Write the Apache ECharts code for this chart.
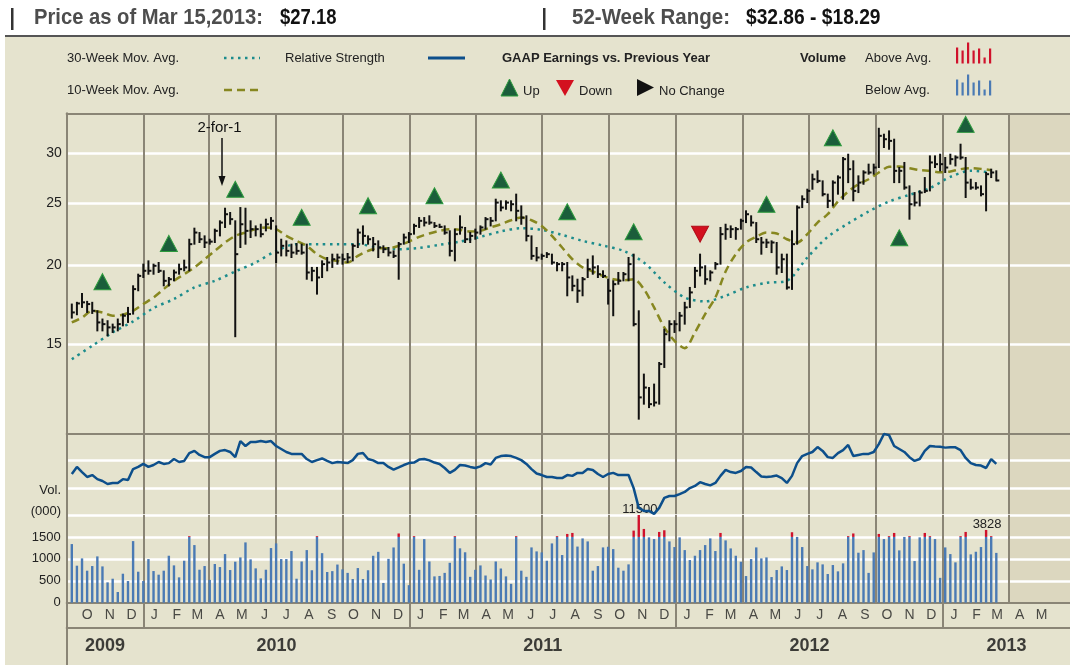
<!DOCTYPE html>
<html>
<head>
<meta charset="utf-8">
<script src="https://cdn.jsdelivr.net/npm/echarts@6.0.0/dist/echarts.min.js"></script>
<style>
html,body{margin:0;padding:0;background:#ffffff;}
#chart{width:1070px;height:665px;}
</style>
</head>
<body>
<div id="chart"></div>
<script>
// ---------------- DATA (weekly, first week ending 2009-09-25) ----------------
const hi = [17.34,17.45,18.02,17.51,17.45,16.92,16.42,16.32,16.12,16.42,
 16.72,17.13,18.53,19.33,20.05,20.29,20.05,20.17,19.57,19.10,
 19.62,20.05,20.34,21.95,22.85,22.49,22.22,21.95,22.77,23.47,
 24.57,24.19,23.47,24.63,24.57,23.47,23.04,23.18,23.61,23.75,
 23.04,21.95,21.82,21.56,21.61,21.56,21.56,19.81,19.81,20.29,
 20.54,20.79,20.79,20.79,20.84,21.56,22.77,23.04,22.22,22.09,
 21.82,21.43,21.30,21.04,21.69,22.36,22.49,23.18,23.75,23.75,
 23.90,23.32,23.18,23.04,22.63,22.77,23.90,22.91,22.49,22.77,
 23.04,23.75,23.75,25.39,25.24,25.24,25.24,25.86,24.78,23.90,
 22.22,21.30,20.79,20.91,20.79,20.17,20.17,20.17,19.21,18.98,
 19.10,20.41,20.66,19.93,19.57,18.98,18.87,19.45,19.45,20.54,
 20.79,16.92,13.44,12.80,12.96,14.02,15.83,16.32,16.32,16.82,
 17.45,18.42,19.81,20.79,19.93,19.57,20.17,22.91,23.18,23.04,
 22.91,23.61,24.34,23.90,23.32,22.09,21.95,21.82,21.69,20.79,
 20.79,22.63,24.78,25.70,26.33,27.81,28.15,27.14,25.86,27.14,
 27.64,29.55,29.90,29.19,27.64,28.15,28.84,28.84,32.86,32.16,
 32.55,31.58,28.49,29.02,26.65,26.01,26.17,27.47,29.72,29.72,
 29.90,29.55,29.90,29.72,31.01,29.55,27.30,26.97,26.65,27.98,
 28.32,28.15];
const lo = [16.48,16.68,17.13,16.82,16.76,15.73,15.73,15.45,15.64,15.73,
 16.02,16.22,16.72,18.20,19.10,19.33,19.33,19.45,18.53,18.53,
 18.87,19.33,19.57,19.57,21.56,21.69,21.30,21.56,21.69,22.22,
 22.91,23.18,15.40,21.30,21.56,22.09,22.22,22.14,22.63,22.77,
 20.17,20.66,20.66,20.54,20.79,20.79,18.98,18.87,17.98,19.10,
 19.57,19.81,20.05,20.05,20.17,20.29,21.30,21.56,21.56,21.04,
 20.54,20.91,20.66,20.54,18.98,21.56,21.69,22.36,22.91,23.04,
 23.18,22.91,22.91,22.36,20.66,20.29,22.36,21.69,21.69,21.95,
 22.36,22.77,23.04,23.47,24.34,24.48,24.34,23.47,23.18,21.82,
 20.41,20.29,20.41,20.54,20.05,19.57,19.57,17.87,18.20,17.45,
 17.87,19.10,19.33,19.10,19.10,17.34,16.62,18.64,18.87,18.87,
 16.02,11.41,12.05,11.90,11.97,12.05,13.77,15.17,15.64,15.73,
 16.12,17.13,18.42,19.21,18.64,18.87,19.69,20.05,21.95,22.09,
 21.95,22.77,23.32,23.04,21.69,20.79,21.30,20.91,19.33,19.45,
 18.31,18.29,21.56,24.63,25.08,26.33,26.97,25.70,24.63,24.78,
 25.86,25.39,26.97,25.24,26.01,26.81,27.81,27.81,28.49,30.64,
 30.45,26.97,26.97,26.33,23.61,24.78,24.78,26.01,26.17,28.49,
 28.15,27.98,28.84,28.66,29.37,25.55,26.33,26.33,25.70,24.34,
 27.47,27.14];
const cl = [16.82,17.38,17.45,17.34,16.92,16.22,16.12,15.93,15.93,16.12,
 16.62,16.72,18.31,19.21,19.57,19.57,19.93,19.57,18.87,18.98,
 19.45,19.69,19.81,21.56,22.49,21.95,21.69,21.76,22.63,23.32,
 24.04,23.61,20.79,23.18,22.63,22.77,22.77,22.36,23.18,23.47,
 20.91,21.43,21.04,20.91,21.04,20.91,19.45,19.57,19.10,20.05,
 20.17,20.41,20.54,20.41,20.54,21.43,22.49,22.22,21.95,21.56,
 21.30,21.17,20.91,20.66,21.56,22.09,22.36,23.04,23.47,23.32,
 23.32,23.04,22.96,22.49,21.04,22.36,22.91,21.95,22.22,22.49,
 22.91,23.61,23.47,25.08,24.63,25.08,24.93,24.34,23.75,22.22,
 20.66,20.54,20.66,20.79,20.17,20.05,20.05,19.10,18.53,18.20,
 18.98,19.69,19.81,19.33,19.21,18.20,18.64,18.87,19.33,20.05,
 16.12,12.35,12.80,12.05,12.12,13.94,15.54,16.12,16.12,16.62,
 17.13,18.09,19.57,19.81,18.98,19.45,20.05,22.36,22.77,22.77,
 22.77,23.47,24.04,23.32,21.95,21.69,21.69,21.69,19.81,20.41,
 18.42,21.56,24.63,25.39,26.17,27.30,27.14,25.86,25.24,26.97,
 27.47,29.37,28.32,26.17,26.97,27.98,27.98,28.49,31.97,31.58,
 31.39,28.15,28.15,26.49,24.93,25.08,26.01,26.17,29.02,28.84,
 28.84,28.49,29.37,29.55,29.55,26.97,26.49,26.49,25.86,27.81,
 27.98,27.18];
// 10-week moving average, one reading every 2 weeks
const ma10 = [16.22,16.51,16.92,16.82,16.62,16.68,16.92,17.34,17.76,18.31,
 18.87,19.33,19.81,20.41,21.04,21.69,22.22,22.49,22.77,22.91,
 22.77,22.22,21.82,21.43,20.79,20.41,20.29,20.17,20.66,21.04,
 21.25,21.25,21.43,21.76,22.14,22.41,22.63,22.77,22.71,22.58,
 22.63,22.91,23.18,23.52,23.75,23.52,23.04,22.22,21.30,20.41,
 19.81,19.52,19.21,18.98,18.91,18.98,18.31,17.13,15.93,15.17,
 14.77,15.64,16.72,17.76,19.52,20.79,21.69,22.14,22.49,22.41,
 21.95,21.69,22.36,23.32,24.04,25.18,26.11,26.81,27.30,27.98,
 28.56,28.59,28.42,28.22,28.15,28.01,28.08,28.32,28.42,28.35,
 28.22];
// 30-week moving average, one reading every 4 weeks
const ma30 = [14.19,14.90,15.64,16.28,17.09,17.66,18.42,18.87,19.52,20.17,
 21.04,21.56,21.56,21.56,21.56,21.30,21.17,21.27,21.51,21.76,
 22.14,22.58,22.85,22.71,22.30,21.82,21.45,21.04,20.17,18.76,
 17.76,17.51,17.87,18.42,18.73,18.87,20.54,22.14,23.25,24.28,
 25.18,25.80,26.43,27.53,28.15,27.98];
// relative strength (index units)
const rs = [15.1,17.7,15.8,14.0,14.7,13.2,12.5,11.4,11.8,11.8,
 13.2,12.9,16.9,17.7,18.8,17.7,18.4,19.5,18.8,19.1,
 20.6,19.5,19.9,22.8,23.6,22.1,21.3,21.3,22.5,23.6,
 23.9,23.2,21.3,27.2,25.4,26.9,26.9,27.2,26.9,27.2,
 25.4,24.3,23.2,22.5,22.5,22.5,20.6,19.5,20.2,20.8,
 19.9,19.1,19.5,19.3,19.1,20.2,22.5,22.8,20.6,20.1,
 19.1,19.1,17.7,16.7,17.5,18.4,19.1,19.3,20.4,20.6,
 20.1,19.3,18.8,17.3,15.5,16.6,18.4,18.2,17.7,17.3,
 17.9,19.1,18.6,21.0,21.7,21.9,21.7,21.0,20.2,18.8,
 16.9,15.3,14.7,14.0,14.0,13.6,13.6,14.7,14.4,15.5,
 15.5,16.9,16.6,15.1,14.0,15.1,15.5,14.7,14.7,14.7,
 9.9,2.6,1.5,1.5,0.4,2.6,6.3,7.0,7.0,7.7,
 8.5,9.9,10.7,12.1,11.4,10.9,11.8,14.4,16.6,15.8,
 15.5,16.2,17.7,17.5,15.8,14.2,14.0,14.2,14.5,13.6,
 11.8,14.4,19.1,21.7,22.5,23.2,25.0,23.6,21.3,21.0,
 22.8,23.9,25.8,21.7,22.1,22.5,22.5,23.2,26.1,29.8,
 29.4,25.4,24.3,23.2,21.3,19.9,20.6,23.6,25.4,25.2,
 25.1,24.8,24.9,24.9,23.9,21.0,19.1,18.4,18.2,17.3,
 20.6,18.8];
// weekly volume (000)
const vol = [1337,844,1011,730,836,1056,828,464,547,244,
 661,494,1405,707,494,995,722,639,730,1071,
 851,578,957,1650,1314,752,836,520,882,813,
 1109,745,935,1033,1375,988,783,555,752,1246,
 1352,995,995,1178,547,940,1200,740,1650,1130,
 700,720,870,760,680,540,790,540,740,1070,
 1160,450,1000,1260,2450,890,400,1650,750,1450,
 940,600,610,680,910,1650,1240,1150,590,750,
 850,620,530,940,780,600,430,1650,730,590,
 1261,1170,1147,957,1352,1650,1087,2290,2640,1280,
 1466,1398,730,836,1261,1276,1223,798,730,874,
 3550,11500,4260,1490,1451,3020,3690,1398,1269,1490,
 1200,973,1071,1200,1314,1466,1178,2640,1421,1238,
 1071,935,608,995,1261,1011,1033,585,745,828,
 745,2900,1500,1269,836,760,920,874,654,859,
 715,897,1650,2450,1140,1200,680,1147,2290,1451,
 1650,2640,1193,1500,1650,950,1490,2640,1650,1451,
 567,1261,1109,920,1650,3020,1102,1162,1269,3828,
 1650,1136];
const volLabelWeeks = [111, 179];
// earnings markers
const epsWeeks = [6,19,32,45,58,71,84,97,110,123,136,149,162,175];
const epsDir = ['up','up','up','up','up','up','up','up','up','down','up','up','up','up'];
const epsLevel = [18.81,21.62,26.32,23.77,24.80,25.71,27.22,24.25,22.55,22.36,24.92,31.75,22.07,33.33];
// axis labels
const priceTicks = [15,20,25,30];
const volTicks = [500,1000,1500,2000];
const rsTicks = [10,20];
const monthLabels = ['O','N','D','J','F','M','A','M','J','J','A','S','O','N','D',
 'J','F','M','A','M','J','J','A','S','O','N','D',
 'J','F','M','A','M','J','J','A','S','O','N','D',
 'J','F','M','A','M'];
const yearLabels = ['2009','2010','2011','2012','2013'];

// ---------------- LAYOUT ----------------
const DAY = 86400000;
const W0 = new Date(2009, 8, 25).getTime();
const wk = i => W0 + i * 7 * DAY;
const X_MIN = new Date(2009, 8, 18).getTime();
const X_MAX = new Date(2013, 5, 24).getTime();
const SHADE_START = new Date(2013, 3, 1).getTime();
const LINE = '#8a8576';
const F = '"Liberation Sans", Arial, Helvetica, sans-serif';
const VOL_CAP = 1500;

const quarterDates = [];
for (let y = 2010; y <= 2013; y++) for (const m of [0,3,6,9]) {
  const t = new Date(y, m, 1).getTime(); if (t < X_MAX) quarterDates.push(t);
}
const yearStarts = [2010,2011,2012,2013].map(y => new Date(y,0,1).getTime());

const L = 66.7;
const grids = [
  {left:L, right:0, top:113.3, height:320.2},
  {left:L, right:0, top:433.5, height:81.5},
  {left:L, right:0, top:515, height:87.7},
  {left:L, right:0, top:602.7, height:25},
  {left:L, right:0, top:627.7, height:37.3}
];
function xAx(gi, pos, showLine) {
  return {type:'time', gridIndex:gi, min:X_MIN, max:X_MAX, position:pos, z:4,
    axisLine:{show:showLine, onZero:false, lineStyle:{color:LINE, width:2}},
    axisTick:{show:false}, axisLabel:{show:false}, splitLine:{show:false}};
}
function yAx(gi, extra) {
  return Object.assign({type:'value', gridIndex:gi, z:4,
    axisLine:{show:true, onZero:false, lineStyle:{color:LINE, width:2}},
    axisTick:{show:false}, axisLabel:{show:false}, splitLine:{show:false}}, extra);
}
const vLine = t => ({xAxis:t, lineStyle:{color:LINE, width:2, type:'solid'}, label:{show:false}});
const hLine = (v, lab) => ({yAxis:v, lineStyle:{color:'#ffffff', width:2.5, type:'solid'},
  label: lab ? {show:true, position:'start', formatter:String(v), fontSize:14, color:'#222', fontFamily:F, distance:5} : {show:false}});
function guideSeries(gi, hs, vs, lab) {
  return {type:'line', xAxisIndex:gi, yAxisIndex:gi, data:[], silent:true, z:2,
    markLine:{silent:true, symbol:['none','none'], z:2, animation:false,
      data: hs.map(v => hLine(v, lab)).concat(vs.map(vLine))}};
}
function shadeSeries(gi) {
  return {type:'line', xAxisIndex:gi, yAxisIndex:gi, data:[], silent:true, z:1,
    markArea:{silent:true, z:1, itemStyle:{color:'#dcd7bf'}, data:[[{xAxis:SHADE_START},{xAxis:X_MAX}]]}};
}

function renderPrice(params, api) {
  const t = api.value(0);
  const a = api.coord([t, api.value(1)]);
  const b = api.coord([t, api.value(2)]);
  const c = api.coord([t, api.value(3)]);
  const st = {stroke:'#111', lineWidth:2, fill:null};
  return {type:'group', children:[
    {type:'line', shape:{x1:a[0], y1:a[1]-0.5, x2:b[0], y2:b[1]+0.5}, style:st},
    {type:'line', shape:{x1:c[0], y1:c[1], x2:c[0]+3, y2:c[1]}, style:st}
  ]};
}
function overDisplay(v) { return v > VOL_CAP ? 500 * Math.pow((v - VOL_CAP) / 10000, 0.785) : 0; }
function renderVol(params, api) {
  const t = api.value(0), v = api.value(1), idx = params.dataIndex;
  const base = api.coord([t, 0]);
  const top1 = api.coord([t, Math.min(v, VOL_CAP)]);
  const w = 2.4;
  const ch = [{type:'rect', shape:{x:base[0]-w/2, y:top1[1], width:w, height:base[1]-top1[1]}, style:{fill:'#4a7ab4'}}];
  const over = overDisplay(v);
  if (over > 0) {
    const top2 = api.coord([t, VOL_CAP + over]);
    ch.push({type:'rect', shape:{x:base[0]-w/2, y:top2[1], width:w, height:top1[1]-top2[1]}, style:{fill:'#d0112b'}});
    if (volLabelWeeks.indexOf(idx) >= 0) {
      ch.push({type:'text', x:base[0]+1, y:top2[1]+1, style:{text:String(v), font:'13px '+F, fill:'#222',
        align:'center', verticalAlign:'bottom', textAlign:'center', textVerticalAlign:'bottom'}});
    }
  }
  return {type:'group', children:ch};
}

function yearCenter(y) {
  const a = Math.max(new Date(y,0,1).getTime(), X_MIN);
  const b = Math.min(new Date(y+1,0,1).getTime(), X_MAX);
  return (a + b) / 2;
}

// ---------------- GRAPHICS (header + legend) ----------------
function txt(x, y, s, font, fill, align) {
  return {type:'text', x:x, y:y, silent:true, z:10, style:{text:s, font:font, fill:fill || '#222',
    align:align || 'left', verticalAlign:'middle', textAlign:align || 'left', textVerticalAlign:'middle'}};
}
const mctx = document.createElement('canvas').getContext('2d');
function fitTxt(x, y, s, font, fill, width) {
  mctx.font = font;
  const w = mctx.measureText(s).width;
  const t = txt(x, y, s, font, fill);
  t.scaleX = w > 0 ? width / w : 1;
  return t;
}
function bars(x0, yb, heights, color) {
  return heights.map((h, k) => ({type:'rect', silent:true, z:10, shape:{x:x0 + k*5.5, y:yb - h, width:2.2, height:h}, style:{fill:color}}));
}
const HF = 'bold 22px "Liberation Sans", Arial, sans-serif';
const graphic = [
  {type:'rect', silent:true, z:-10, shape:{x:0, y:0, width:1070, height:36}, style:{fill:'#ffffff'}},
  {type:'rect', silent:true, z:-10, shape:{x:0, y:0, width:5, height:665}, style:{fill:'#ffffff'}},
  {type:'line', silent:true, z:10, shape:{x1:5, y1:36, x2:1070, y2:36}, style:{stroke:'#555', lineWidth:2}},
  {type:'rect', silent:true, z:10, shape:{x:11, y:8, width:2.5, height:22}, style:{fill:'#333'}},
  fitTxt(34, 18, 'Price as of Mar 15,2013:', HF, '#4d4d4d', 229),
  fitTxt(280, 18, '$27.18', HF, '#111', 56.5),
  {type:'rect', silent:true, z:10, shape:{x:543, y:8, width:2.5, height:22}, style:{fill:'#333'}},
  fitTxt(572, 18, '52-Week Range:', HF, '#4d4d4d', 158),
  fitTxt(746, 18, '$32.86 - $18.29', HF, '#111', 134.5),
  // legend row 1
  txt(67, 58, '30-Week Mov. Avg.', '13px ' + F),
  {type:'line', silent:true, z:10, shape:{x1:224, y1:58, x2:260, y2:58}, style:{stroke:'#1c8c8c', lineWidth:2.5, lineDash:[2.5,4.5]}},
  txt(285, 58, 'Relative Strength', '13px ' + F),
  {type:'line', silent:true, z:10, shape:{x1:428, y1:58, x2:465, y2:58}, style:{stroke:'#0d4f8b', lineWidth:3}},
  txt(502, 58, 'GAAP Earnings vs. Previous Year', 'bold 13px ' + F),
  txt(800, 58, 'Volume', 'bold 13px ' + F),
  txt(865, 58, 'Above Avg.', '13px ' + F),
  // legend row 2
  txt(67, 90, '10-Week Mov. Avg.', '13px ' + F),
  {type:'line', silent:true, z:10, shape:{x1:224, y1:90, x2:260, y2:90}, style:{stroke:'#878720', lineWidth:2.5, lineDash:[8,5]}},
  {type:'polygon', silent:true, z:10, shape:{points:[[501,96],[518,96],[509.5,79]]}, style:{fill:'#1b5e3b', stroke:'#2c9a3c', lineWidth:1}},
  txt(523, 91, 'Up', '13px ' + F),
  {type:'polygon', silent:true, z:10, shape:{points:[[556,80],[574,80],[565,96]]}, style:{fill:'#d3101f'}},
  txt(579, 91, 'Down', '13px ' + F),
  {type:'polygon', silent:true, z:10, shape:{points:[[637,79],[637,96],[654,87.5]]}, style:{fill:'#111'}},
  txt(659, 91, 'No Change', '13px ' + F),
  txt(865, 90, 'Below Avg.', '13px ' + F),
  // chart annotations
  txt(61, 490, 'Vol.', '13px ' + F, '#222', 'right'),
  txt(61, 511, '(000)', '13px ' + F, '#222', 'right'),
  txt(219.5, 128, '2-for-1', '15px ' + F, '#111', 'center'),
  {type:'line', silent:true, z:10, shape:{x1:222, y1:138, x2:222, y2:180}, style:{stroke:'#111', lineWidth:1.5}},
  {type:'polygon', silent:true, z:10, shape:{points:[[218.5,176],[225.5,176],[222,186]]}, style:{fill:'#111'}}
].concat(bars(956, 63.5, [16,13,21,13,15,6,15], '#d0112b'))
 .concat(bars(956, 95.5, [16,13,21,13,15,6,15], '#4a7ab4'));

// ---------------- OPTION ----------------
const option = {
  animation:false,
  backgroundColor:'#e5e3ce',
  textStyle:{fontFamily:F},
  grid: grids,
  xAxis: [xAx(0,'top',true), xAx(1,'top',true), xAx(2,'bottom',true), xAx(3,'bottom',true), xAx(4,'bottom',false)],
  yAxis: [
    yAx(0, {type:'log', logBase:10, min:10.83, max:34.70}),
    yAx(1, {min:0, max:30, interval:10}),
    yAx(2, {min:0, max:2000, interval:500,
      axisLabel:{show:true, margin:6, fontSize:13, color:'#222', fontFamily:F, formatter: v => v > VOL_CAP ? '' : String(v)}}),
    yAx(3, {min:0, max:1}),
    yAx(4, {min:0, max:1})
  ],
  graphic: graphic,
  series: [
    shadeSeries(0), shadeSeries(1), shadeSeries(2),
    guideSeries(0, priceTicks, quarterDates, true),
    guideSeries(1, rsTicks, quarterDates, false),
    guideSeries(2, volTicks, quarterDates, false),
    guideSeries(3, [], yearStarts, false),
    {type:'line', name:'30-Week', xAxisIndex:0, yAxisIndex:0, z:3, showSymbol:false, smooth:0.3, silent:true,
      data: ma30.map((v,k) => [wk(4*k), v]),
      lineStyle:{color:'#1c8c8c', width:2.5, type:[2.5,4.5]}},
    {type:'line', name:'10-Week', xAxisIndex:0, yAxisIndex:0, z:3, showSymbol:false, smooth:0.3, silent:true,
      data: ma10.map((v,k) => [wk(2*k), v]),
      lineStyle:{color:'#878720', width:2.5, type:[8,5]}},
    {type:'custom', name:'Price', xAxisIndex:0, yAxisIndex:0, z:5, silent:true,
      renderItem: renderPrice, encode:{x:0, y:[1,2,3]},
      data: hi.map((h,i) => [wk(i), h, lo[i], cl[i]])},
    {type:'scatter', name:'EPS', xAxisIndex:0, yAxisIndex:0, z:6, silent:true, symbol:'triangle', symbolSize:[17,16],
      data: epsWeeks.map((w,k) => ({value:[wk(w), epsLevel[k]], symbolRotate: epsDir[k] === 'down' ? 180 : 0,
        itemStyle: epsDir[k] === 'down' ? {color:'#d3101f', borderColor:'#b00c18', borderWidth:1, opacity:1}
                                          : {color:'#1b5e3b', borderColor:'#2c9a3c', borderWidth:1, opacity:1}}))},
    {type:'line', name:'RS', xAxisIndex:1, yAxisIndex:1, z:5, showSymbol:false, silent:true, clip:false,
      data: rs.map((v,i) => [wk(i), v]), lineStyle:{color:'#0d4f8b', width:2.5}},
    {type:'custom', name:'Volume', xAxisIndex:2, yAxisIndex:2, z:5, silent:true,
      renderItem: renderVol, encode:{x:0, y:1}, data: vol.map((v,i) => [wk(i), v])},
    {type:'scatter', xAxisIndex:3, yAxisIndex:3, silent:true, symbolSize:1, itemStyle:{color:'rgba(0,0,0,0)'},
      data: monthLabels.map((m,k) => [new Date(2009, 9 + k, 16).getTime(), 0.5, m]),
      label:{show:true, position:'inside', formatter: p => p.value[2], fontSize:14, color:'#222', fontFamily:F}},
    {type:'scatter', xAxisIndex:4, yAxisIndex:4, silent:true, symbolSize:1, itemStyle:{color:'rgba(0,0,0,0)'},
      data: yearLabels.map(y => [yearCenter(+y), 0.5, y]),
      label:{show:true, position:'inside', formatter: p => p.value[2], fontSize:18, fontWeight:'bold', color:'#111', fontFamily:F}}
  ]
};
const chart = echarts.init(document.getElementById('chart'));
chart.setOption(option);
</script>
</body>
</html>
